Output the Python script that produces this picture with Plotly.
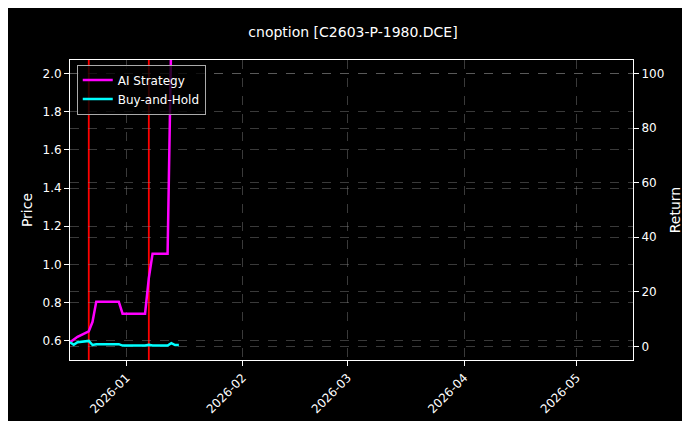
import plotly.graph_objects as go

dates = ["2025-12-17","2025-12-18","2025-12-19","2025-12-22","2025-12-23","2025-12-24","2025-12-25","2025-12-26",
         "2025-12-29","2025-12-30","2025-12-31","2026-01-02","2026-01-05","2026-01-06","2026-01-07","2026-01-08",
         "2026-01-09","2026-01-12","2026-01-13","2026-01-14","2026-01-15"]
ai_return = [1.5,2.5,3.5,5.5,9,16.4,16.4,16.4,16.4,16.4,12,12,12,12,25,34,34,34,115,None,None]
bh_return = [1.5,0.6,1.5,2.0,0.5,0.8,0.8,0.8,0.8,0.8,0.3,0.3,0.3,0.3,0.6,0.3,0.3,0.3,1.2,0.5,0.5]
signal_dates = ["2025-12-22","2026-01-07"]

fig = go.Figure()
fig.add_trace(go.Scatter(x=[dates[0]], y=[None], mode="lines", showlegend=False, hoverinfo="skip", yaxis="y"))
fig.add_trace(go.Scatter(x=dates, y=ai_return, mode="lines", name="AI Strategy",
                         line=dict(color="#ff00ff", width=2.5), yaxis="y2"))
fig.add_trace(go.Scatter(x=dates, y=bh_return, mode="lines", name="Buy-and-Hold",
                         line=dict(color="#00ffff", width=2.5), yaxis="y2"))
for d in signal_dates:
    fig.add_shape(type="line", xref="x", yref="paper", x0=d, x1=d, y0=0, y1=1,
                  line=dict(color="red", width=1.8), layer="below")

grid = dict(showgrid=True, gridcolor="rgba(128,128,128,0.45)", griddash="dash", gridwidth=0.6)
fig.update_layout(
    width=690, height=421, paper_bgcolor="black", plot_bgcolor="black",
    margin=dict(l=62, r=65, t=52, b=69, autoexpand=False),
    font=dict(family="DejaVu Sans", color="white", size=12),
    title=dict(text="cnoption [C2603-P-1980.DCE]", x=0.5, xanchor="center", y=0.955, font=dict(size=14)),
    xaxis=dict(range=["2025-12-17","2026-05-16"], tickvals=["2026-01-01","2026-02-01","2026-03-01","2026-04-01","2026-05-01"],
               ticktext=["2026-01","2026-02","2026-03","2026-04","2026-05"], tickangle=-45, automargin=False,
               showline=True, linecolor="white", mirror=True, ticks="outside", tickcolor="white", **grid),
    yaxis=dict(title=dict(text="Price", standoff=6), range=[0.5,2.07], tickvals=[0.6,0.8,1.0,1.2,1.4,1.6,1.8,2.0],
               ticktext=["0.6","0.8","1.0","1.2","1.4","1.6","1.8","2.0"], automargin=False,
               showline=True, linecolor="white", ticks="outside", tickcolor="white", zeroline=False, **grid),
    yaxis2=dict(title=dict(text="Return", standoff=6), overlaying="y", side="right", range=[-5,105], automargin=False,
                tickvals=[0,20,40,60,80,100], showline=True, linecolor="white", ticks="outside",
                tickcolor="white", zeroline=False, **grid),
    legend=dict(x=0.012, y=0.985, xanchor="left", yanchor="top", bgcolor="rgba(0,0,0,0.8)",
                bordercolor="#aaaaaa", borderwidth=1, font=dict(size=12)),
)
fig.write_html("out.html")
